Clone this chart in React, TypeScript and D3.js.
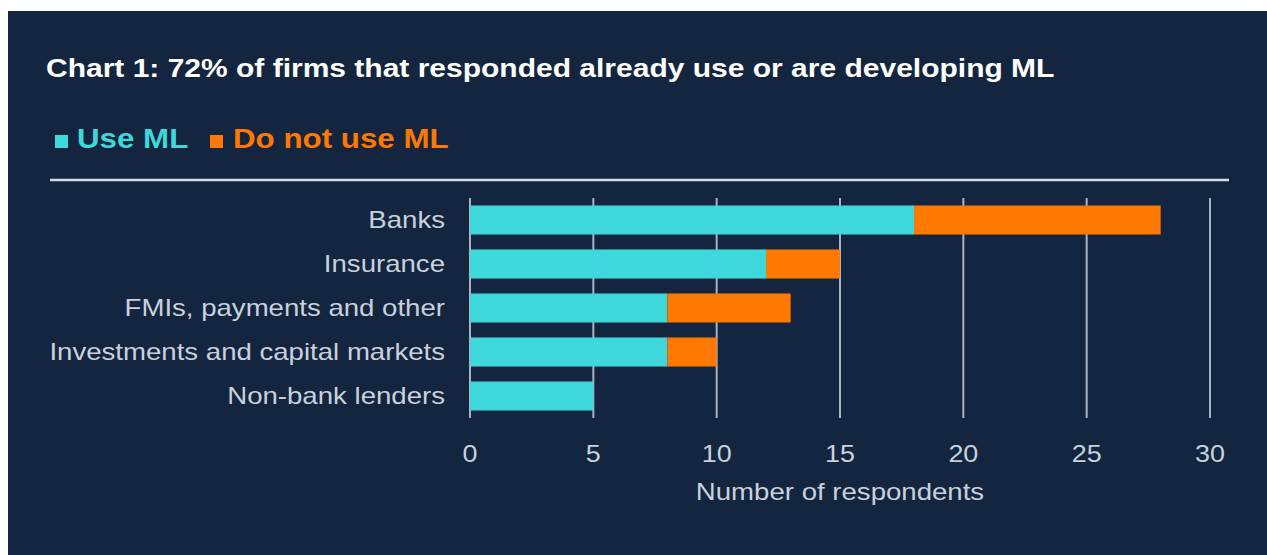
import React from "react";
import * as d3 from "d3";

const categories = [
  "Banks",
  "Insurance",
  "FMIs, payments and other",
  "Investments and capital markets",
  "Non-bank lenders",
];
const useML = [18, 12, 8, 8, 5];
const doNotUseML = [10, 3, 5, 2, 0];
const xTicks = [0, 5, 10, 15, 20, 25, 30];
const seriesNames = ["Use ML", "Do not use ML"];

const W = 1267;
const H = 555;
const BG = "#13253f";
const TEAL = "#3ed8da";
const ORANGE = "#ff7800";
const GRID = "#a9b3c3";
const LABEL = "#c9d1dc";
const FONT = "'Liberation Sans', Arial, sans-serif";

function T(props: {
  x: number;
  y: number;
  sx: number;
  size: number;
  fill: string;
  bold?: boolean;
  anchor?: string;
  dy?: string;
  children: React.ReactNode;
}) {
  return (
    <text
      transform={`translate(${props.x},${props.y}) scale(${props.sx},1)`}
      dy={props.dy}
      fill={props.fill}
      fontFamily={FONT}
      fontWeight={props.bold ? "bold" : "normal"}
      fontSize={props.size}
      textAnchor={props.anchor || "start"}
    >
      {props.children}
    </text>
  );
}

export default function App() {
  const x = d3.scaleLinear().domain([0, 30]).range([470, 1210]);
  const y = d3
    .scaleBand<string>()
    .domain(categories)
    .range([198, 418])
    .paddingInner(0.34)
    .paddingOuter(0.17);
  const stacked = d3.stack<any>().keys(["use", "not"])(
    categories.map((c, i) => ({ cat: c, use: useML[i], not: doNotUseML[i] }))
  );
  const colors = [TEAL, ORANGE];
  return (
    <svg
      width={W}
      height={H}
      style={{ display: "block", position: "absolute", left: 0, top: 0 }}
    >
      <rect x={0} y={0} width={W} height={H} fill="#ffffff" />
      <rect x={8} y={11} width={W - 8} height={H - 11} fill={BG} />
      <T x={46} y={77} sx={1.2} size={25} fill="#ffffff" bold>
        Chart 1: 72% of firms that responded already use or are developing ML
      </T>
      {/* legend */}
      <rect x={55} y={135} width={13} height={13} fill={TEAL} />
      <T x={77} y={148} sx={1.16} size={27} fill={TEAL} bold>
        {seriesNames[0]}
      </T>
      <rect x={210} y={135} width={13} height={13} fill={ORANGE} />
      <T x={233} y={148} sx={1.16} size={27} fill={ORANGE} bold>
        {seriesNames[1]}
      </T>
      <line x1={50} x2={1229} y1={180} y2={180} stroke="#d8dde5" strokeWidth={2.5} />
      {/* grid */}
      {xTicks.map((t) => (
        <line key={t} x1={x(t)} x2={x(t)} y1={198} y2={418} stroke={GRID} strokeWidth={2} />
      ))}
      {/* bars */}
      {stacked.map((s, si) =>
        s.map((d, i) =>
          d[1] - d[0] > 0 ? (
            <rect
              key={si + "-" + i}
              x={x(d[0])}
              y={y(categories[i])!}
              width={x(d[1]) - x(d[0])}
              height={y.bandwidth()}
              fill={colors[si]}
            />
          ) : null
        )
      )}
      {/* category labels */}
      {categories.map((c) => (
        <T
          key={c}
          x={445}
          y={y(c)! + y.bandwidth() / 2}
          dy="0.35em"
          sx={1.2}
          size={23}
          fill={LABEL}
          anchor="end"
        >
          {c}
        </T>
      ))}
      {/* tick labels */}
      {xTicks.map((t) => (
        <T key={t} x={x(t)} y={462} sx={1.17} size={23} fill={LABEL} anchor="middle">
          {t}
        </T>
      ))}
      <T x={840} y={500} sx={1.2} size={23} fill={LABEL} anchor="middle">
        Number of respondents
      </T>
    </svg>
  );
}
